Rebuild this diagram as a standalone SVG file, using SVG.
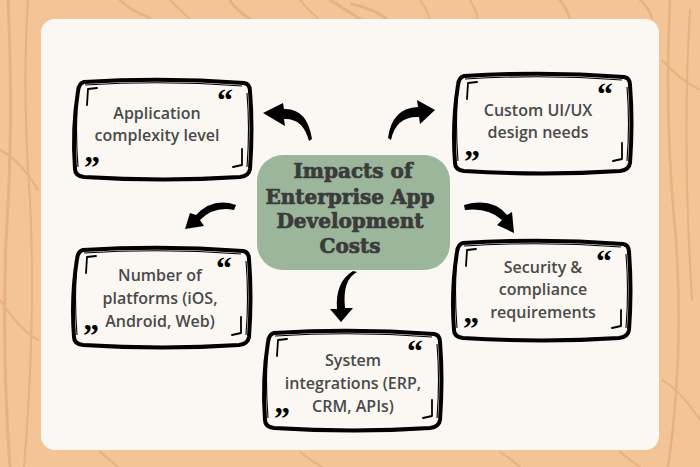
<svg xmlns="http://www.w3.org/2000/svg" width="700" height="467" viewBox="0 0 700 467">
<style>
.grain{fill:none;stroke:#e6b07c;stroke-linecap:round}
.box{fill:#fbf7f3;stroke:#000;stroke-width:4;stroke-linejoin:round}
.box2{fill:none;stroke:#000;stroke-width:1.1}
.mark{fill:none;stroke:#000;stroke-width:1.8;stroke-linecap:round;stroke-linejoin:round}
.q{font-family:"Liberation Serif",serif;font-weight:bold;font-size:32px;fill:#000;text-anchor:middle}
.lbl{font-family:"Open Sans","Noto Sans",sans-serif;font-weight:600;font-size:16px;fill:#4a4a4a;text-anchor:middle}
.title{font-family:"DejaVu Serif","Liberation Serif",serif;font-weight:bold;font-size:20px;fill:#3b3b3b;stroke:#3b3b3b;stroke-width:0.7;text-anchor:middle}
.arrow{fill:#000}
</style>
<defs>
<path id="frame" d="M12,3 Q92,-2 172,4 Q178,5 178,12 Q181,50 178,90 Q177,97 168,98 Q92,103 12,98 Q3,97 3,90 Q0,50 6,12 Q7,4 12,3 Z"/>
<g id="deco">
<use href="#frame" class="box"/>
<path class="box2" d="M13,6 Q92,1 170,7 M6,14 Q3,50 6,88 M175,14 Q178,50 175,88"/>
<path class="mark" d="M15,26 L16,10 L25,9"/>
<path class="mark" d="M170,70 L170,86 L161,88"/>
<text class="q" x="153" y="32">“</text>
<text class="q" x="20" y="99">”</text>
</g>
</defs>
<rect width="700" height="467" fill="#f3c596"/>
<g opacity="0.9">
<path class="grain" stroke-width="3" d="M8,0 Q14,120 6,240 Q2,360 10,467"/>
<path class="grain" stroke-width="2" d="M28,0 Q22,90 30,200 Q36,320 24,467"/>
<path class="grain" stroke-width="2.5" d="M120,0 Q130,10 150,18"/>
<path class="grain" stroke-width="2" d="M170,0 Q178,8 190,19"/>
<path class="grain" stroke-width="3" d="M230,0 Q236,10 250,19"/>
<path class="grain" stroke-width="2" d="M300,0 Q306,8 318,18"/>
<path class="grain" stroke-width="3" d="M330,0 Q346,10 360,19 M352,4 Q370,8 386,18"/>
<path class="grain" stroke-width="2" d="M420,0 Q426,8 430,18 M470,0 Q476,10 478,19"/>
<path class="grain" stroke-width="2.5" d="M560,0 Q566,8 570,18 M640,0 Q648,6 652,18"/>
<path class="grain" stroke-width="2.5" d="M670,0 Q664,120 676,240 Q684,360 668,467"/>
<path class="grain" stroke-width="2" d="M690,10 Q682,140 692,300"/>
<path class="grain" stroke-width="2" d="M0,300 Q20,330 38,340 M0,150 Q20,160 38,190"/>
<path class="grain" stroke-width="2" d="M100,452 Q110,460 118,467 M300,452 Q310,460 322,467 M500,452 Q512,460 520,467 M620,452 Q630,460 640,467"/>
<path class="grain" stroke-width="2" d="M662,60 Q680,80 700,90 M662,380 Q680,390 700,420"/>
</g>
<rect x="41" y="19" width="618" height="431" rx="14" fill="#fbf7f3"/>

<g id="connectors">
<path class="arrow" d="M309,141 Q303,118 284,119 L285,126 L263,113 L283,103 L284,109 Q307,108 312,139 Z"/>
<path class="arrow" d="M391,140 Q396,116 419,117 L420,124 L435,110 L417,100 L418,107 Q392,108 388,138 Z"/>
<path class="arrow" d="M236,205 Q213,197 196,215 L190,213 L185,229 L204,226 L200,220 Q214,206 234,210 Z"/>
<path class="arrow" d="M464,205 Q492,197 507,215 L512,212 L514,233 L497,225 L502,220 Q488,207 465,210 Z"/>
<path class="arrow" d="M357,272 Q342,280 345,308 L353,308 L341,322 L330,309 L337,309 Q335,282 353,271 Z"/>
</g>

<g id="center">
<rect x="257" y="155" width="193" height="115" rx="26" fill="#9cb69b"/>
<text class="title" x="353" y="178">Impacts of</text>
<text class="title" x="350" y="204">Enterprise App</text>
<text class="title" x="350" y="228">Development</text>
<text class="title" x="350" y="253">Costs</text>
</g>

<g id="n1" transform="translate(72,79)">
<use href="#deco"/>
<text class="lbl" x="85" y="40">Application</text>
<text class="lbl" x="85" y="62">complexity level</text>
</g>
<g id="n2" transform="translate(452,73)">
<use href="#deco"/>
<text class="lbl" x="86" y="43">Custom UI/UX</text>
<text class="lbl" x="86" y="65">design needs</text>
</g>
<g id="n3" transform="translate(71,247)">
<use href="#deco"/>
<text class="lbl" x="89" y="34">Number of</text>
<text class="lbl" x="89" y="57">platforms (iOS,</text>
<text class="lbl" x="89" y="80">Android, Web)</text>
</g>
<g id="n4" transform="translate(451,240)">
<use href="#deco"/>
<text class="lbl" x="92" y="33">Security &amp;</text>
<text class="lbl" x="92" y="55">compliance</text>
<text class="lbl" x="92" y="78">requirements</text>
</g>
<g id="n5" transform="translate(262,330)">
<use href="#deco"/>
<text class="lbl" x="91" y="36">System</text>
<text class="lbl" x="91" y="59">integrations (ERP,</text>
<text class="lbl" x="91" y="82">CRM, APIs)</text>
</g>
</svg>
